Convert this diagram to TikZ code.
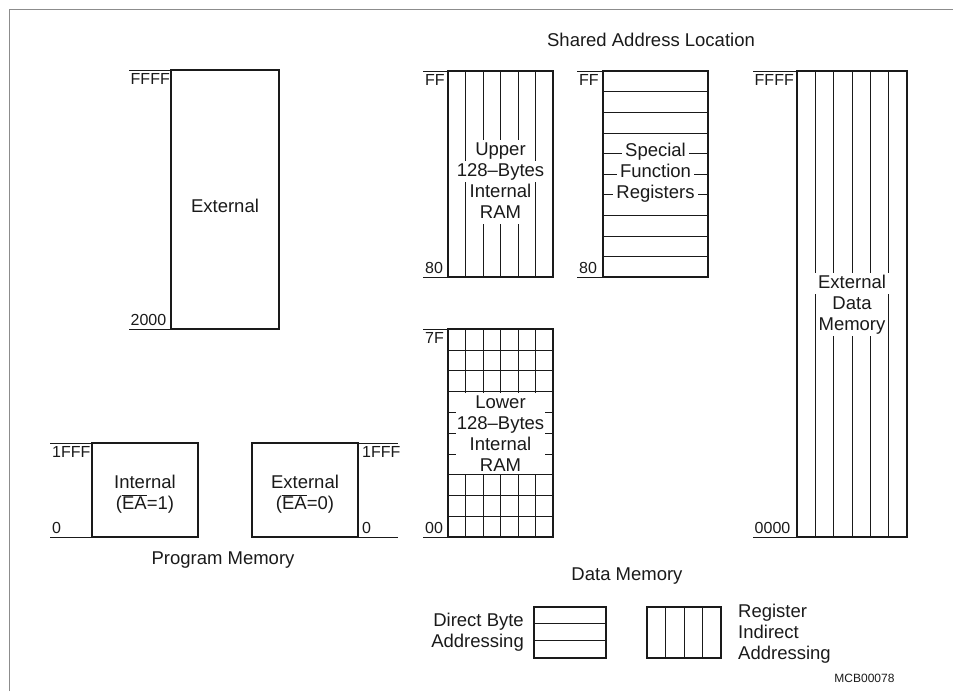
\documentclass[tikz,border=0pt]{standalone}
\usepackage{fontspec}
\setmainfont{Liberation Sans}
\usepackage{tikz}
\usetikzlibrary{positioning}
\definecolor{MCInk}  {HTML}{1A1A1A}
\definecolor{MCFrame}{HTML}{8C8C8C}
\newcommand{\nEA}{\ensuremath{\overline{\mbox{EA}}}}

\begin{document}
\begin{tikzpicture}[x=1pt,y=-1pt,
    box/.style={draw=MCInk,line width=1.6pt},
    cell/.style={draw=MCInk,line width=0.5pt},
    tk/.style={draw=MCInk,line width=0.6pt},
    txt/.style={font=\fontsize{18.5}{21}\selectfont,text=MCInk,align=center,inner sep=1pt},
    wtxt/.style={txt,fill=white,text height=15pt,text depth=4pt,inner xsep=3pt,inner ysep=1pt},
    adr/.style={font=\fontsize{16}{18}\selectfont,text=MCInk,inner sep=1pt}
  ]
  \useasboundingbox (0,0) rectangle (953,691);
  \draw[MCFrame,line width=0.8pt] (9,691) -- (9,9) -- (953,9);
  \node[txt](shr) at (651,40) {Shared Address Location};
  % program memory, external above 2000
  \draw[tk](129,70)--(171,70) (129,329)--(171,329);
  \draw[box](171,70) rectangle (279,329);
  \node[adr,anchor=north west](pxf) at (129.5,72)  {FFFF};
  \node[adr,anchor=south west](pxl) at (129.5,327) {2000};
  \node[txt](pext) at (225,206) {External};
  % program memory, 0 to 1FFF
  \draw[tk](50,443)--(92,443) (50,537)--(92,537);
  \draw[box](92,443) rectangle (198,537);
  \node[adr,anchor=north west](pif) at (51,445)  {1FFF};
  \node[adr,anchor=south west](pil) at (51,535)  {0};
  \node[txt](pint) at (145,494) {Internal\\(\nEA=1)};
  \draw[tk](358,443)--(398,443) (358,537)--(398,537);
  \draw[box](252,443) rectangle (358,537);
  \node[adr,anchor=north west](pef) at (361,445) {1FFF};
  \node[adr,anchor=south west](pel) at (361,535) {0};
  \node[txt](pexe) at (305,494) {External\\(\nEA=0)};
  \node[txt](prg) at (223,560) {Program Memory};
  % upper 128 bytes
  \draw[tk](423,71)--(448,71) (423,277)--(448,277);
  \foreach \k in {1,...,5}
    \draw[cell]({448+17.5*\k},71)--({448+17.5*\k},277);
  \draw[box](448,71) rectangle (553,277);
  \node[adr,anchor=north west](uff) at (424,73)  {FF};
  \node[adr,anchor=south west](u80) at (424,275) {80};
  \node[wtxt](up1) at (500.5,150) {Upper};
  \node[wtxt](up2) at (500.5,171) {128--Bytes};
  \node[wtxt](up3) at (500.5,192) {Internal};
  \node[wtxt](up4) at (500.5,213) {RAM};
  % special function registers
  \draw[tk](577,71)--(603,71) (577,277)--(603,277);
  \foreach \k in {1,...,9}
    \draw[cell](603,{71+20.6*\k})--(708,{71+20.6*\k});
  \draw[box](603,71) rectangle (708,277);
  \node[adr,anchor=north west](sff) at (578,73)  {FF};
  \node[adr,anchor=south west](s80) at (578,275) {80};
  \node[wtxt](sf1) at (655.5,151) {Special};
  \node[wtxt](sf2) at (655.5,172) {Function};
  \node[wtxt](sf3) at (655.5,193) {Registers};
  % lower 128 bytes
  \draw[tk](423,329)--(448,329) (423,537)--(448,537);
  \foreach \k in {1,...,5}
    \draw[cell]({448+17.5*\k},329)--({448+17.5*\k},537);
  \foreach \k in {1,...,9}
    \draw[cell](448,{329+20.8*\k})--(553,{329+20.8*\k});
  \fill[white](460,392.5) rectangle (541,474);
  \draw[box](448,329) rectangle (553,537);
  \node[adr,anchor=north west](l7f) at (424,331) {7F};
  \node[adr,anchor=south west](l00) at (424,535) {00};
  \node[txt,fill=white](low) at (500.5,434) {Lower\\128--Bytes\\Internal\\RAM};
  % external data memory
  \draw[tk](753,71)--(797,71) (753,537)--(797,537);
  \foreach \k in {1,...,5}
    \draw[cell]({797+18.33*\k},71)--({797+18.33*\k},537);
  \draw[box](797,71) rectangle (907,537);
  \node[adr,anchor=north west](xff) at (753.5,73)  {FFFF};
  \node[adr,anchor=south west](x00) at (753.5,535) {0000};
  \node[wtxt](xd1) at (852,283) {External};
  \node[wtxt](xd2) at (852,304) {Data};
  \node[wtxt](xd3) at (852,325) {Memory};
  \node[txt](dat) at (627,576) {Data Memory};
  % legend
  \foreach \y in {623,640}
    \draw[cell](534,\y)--(606,\y);
  \draw[box](534,607) rectangle (606,658);
  \node[txt,align=right,anchor=east](dba) at (525,632) {Direct Byte\\Addressing};
  \foreach \x in {665.5,684,702.5}
    \draw[cell](\x,607)--(\x,658);
  \draw[box](647,607) rectangle (721,658);
  \node[txt,align=left,anchor=west](ria) at (737,634) {Register\\Indirect\\Addressing};
  \node[font=\fontsize{12}{14}\selectfont,text=MCInk,anchor=east](mcb) at (898,678) {MCB00078};
\end{tikzpicture}
\end{document}
